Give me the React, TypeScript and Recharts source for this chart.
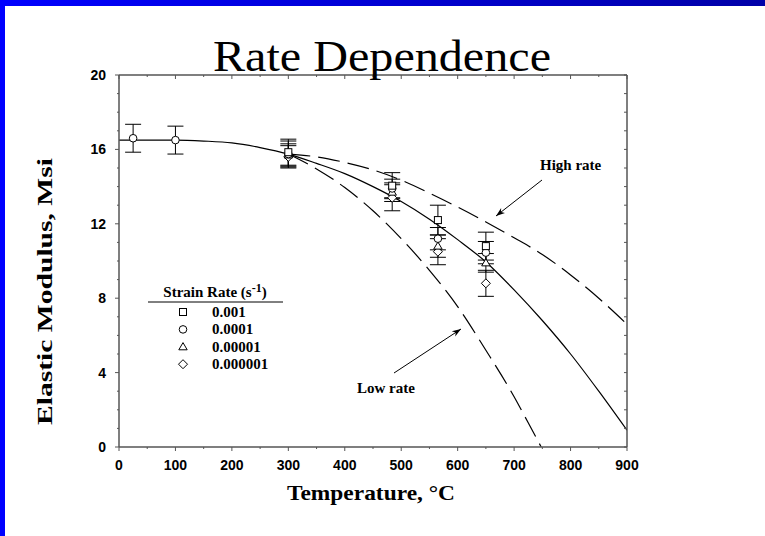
import React from 'react';
import { ComposedChart, Line, Scatter, ErrorBar, XAxis, YAxis } from 'recharts';

// axis ticks
const xTicks = [0, 50, 100, 150, 200, 250, 300, 350, 400, 450, 500, 550, 600, 650, 700, 750, 800, 850, 900];
const yTicks = [0, 1, 2, 3, 4, 5, 6, 7, 8, 9, 10, 11, 12, 13, 14, 15, 16, 17, 18, 19, 20];

// fitted curves
const midT = [0, 50, 100, 150, 200, 250, 300, 350, 400, 450, 500, 550, 600, 650, 700, 750, 800, 850, 900];
const midE = [16.5, 16.5, 16.5, 16.45, 16.35, 16.1, 15.75, 15.25, 14.7, 14.0, 13.2, 12.25, 11.15, 9.95, 8.45, 6.8, 5.0, 3.0, 0.9];

const highT = [300, 350, 400, 450, 500, 550, 600, 650, 700, 750, 800, 850, 900];
const highE = [15.75, 15.6, 15.3, 14.9, 14.35, 13.65, 12.9, 12.1, 11.25, 10.35, 9.25, 8.0, 6.6];

const lowT = [300, 350, 400, 450, 500, 550, 600, 650, 700, 725, 748];
const lowE = [15.75, 14.95, 13.95, 12.7, 11.2, 9.5, 7.55, 5.2, 2.7, 1.3, 0];

// measurements, one list per strain rate
const sqT = [300, 484, 565, 650];
const sqE = [15.85, 14.05, 12.2, 10.8];
const sqErr = [0.7, 0.7, 0.8, 0.75];

const ciT = [25, 100, 300, 484, 565, 650];
const ciE = [16.6, 16.5, 15.75, 13.9, 11.2, 10.45];
const ciErr = [0.75, 0.75, 0.7, 0.5, 0.6, 0.6];

const trT = [300, 484, 565, 650];
const trE = [15.7, 13.7, 10.8, 9.9];
const trErr = [0.6, 0.5, 0.6, 0.5];

const diT = [300, 484, 565, 650];
const diE = [15.6, 13.4, 10.5, 8.8];
const diErr = [0.6, 0.7, 0.7, 0.7];

const legendRates = ['0.001', '0.0001', '0.00001', '0.000001'];

const toCurve = (t: number[], e: number[]) => t.map((v, i) => ({ t: v, e: e[i] }));
const toPoints = (t: number[], e: number[], err: number[]) =>
    t.map((v, i) => ({ t: v, e: e[i], err: err[i] }));

const AXIS = '#555';
const SERIF = '"Liberation Serif", "Times New Roman", serif';
const SANS = '"Liberation Sans", Arial, sans-serif';

const Square = ({ cx, cy }: any) => (
    <rect x={cx - 3.5} y={cy - 3.5} width={7} height={7} fill="#fff" stroke="#000" strokeWidth={1} />
);
const Circle = ({ cx, cy }: any) => <circle cx={cx} cy={cy} r={3.8} fill="#fff" stroke="#000" strokeWidth={1} />;
const Triangle = ({ cx, cy }: any) => (
    <path d={`M${cx},${cy - 4.2}L${cx + 4.2},${cy + 3}L${cx - 4.2},${cy + 3}Z`} fill="#fff" stroke="#000" strokeWidth={1} />
);
const Diamond = ({ cx, cy }: any) => (
    <path d={`M${cx},${cy - 4.5}L${cx + 4.5},${cy}L${cx},${cy + 4.5}L${cx - 4.5},${cy}Z`} fill="#fff" stroke="#000" strokeWidth={1} />
);

const BottomTick = ({ x, y, payload }: any) => {
    const major = payload.value % 100 === 0;
    return (
        <g>
            <line x1={x} x2={x} y1={y} y2={y + (major ? 4 : 2)} stroke={AXIS} />
            {major && (
                <text x={x} y={y + 23} textAnchor="middle" fontFamily={SANS} fontWeight="bold" fontSize={14} fill="#000">
                    {payload.value}
                </text>
            )}
        </g>
    );
};

const TopTick = ({ x, y, payload }: any) => {
    const major = payload.value % 100 === 0;
    return <line x1={x} x2={x} y1={y} y2={y + (major ? 4 : 2)} stroke={AXIS} />;
};

const LeftTick = ({ x, y, payload }: any) => {
    const major = payload.value % 4 === 0;
    return (
        <g>
            <line x1={x - (major ? 4 : 2)} x2={x} y1={y} y2={y} stroke={AXIS} />
            {major && (
                <text x={x - 13} y={y + 5} textAnchor="end" fontFamily={SANS} fontWeight="bold" fontSize={14} fill="#000">
                    {payload.value}
                </text>
            )}
        </g>
    );
};

const RightTick = ({ x, y }: any) => <line x1={x - 3} x2={x} y1={y} y2={y} stroke={AXIS} />;

export default function App() {
    return (
        <div style={{ position: 'absolute', left: 0, top: 0, width: 765, height: 536, background: '#fff' }}>
            <ComposedChart width={765} height={536} margin={{ top: 74, right: 137, bottom: 49, left: 59 }}>
                <XAxis dataKey="t" type="number" domain={[0, 900]} ticks={xTicks} interval={0}
                    height={40} tickSize={0} tickMargin={0} tick={<BottomTick />}
                    axisLine={{ stroke: AXIS, strokeWidth: 1.5 }} tickLine={false} allowDataOverflow />
                <XAxis xAxisId="top" orientation="top" dataKey="t" type="number" domain={[0, 900]} ticks={xTicks}
                    interval={0} height={1} tickSize={0} tickMargin={0} tick={<TopTick />}
                    axisLine={{ stroke: AXIS, strokeWidth: 1.5 }} tickLine={false} allowDataOverflow />
                <YAxis dataKey="e" type="number" domain={[0, 20]} ticks={yTicks} interval={0} width={60}
                    tickSize={0} tickMargin={0} tick={<LeftTick />}
                    axisLine={{ stroke: AXIS, strokeWidth: 1.5 }} tickLine={false} allowDataOverflow />
                <YAxis yAxisId="right" orientation="right" dataKey="e" type="number" domain={[0, 20]} ticks={yTicks}
                    interval={0} width={1} tickSize={0} tickMargin={0} tick={<RightTick />}
                    axisLine={{ stroke: AXIS, strokeWidth: 1.5 }} tickLine={false} allowDataOverflow />

                <Line data={toCurve(midT, midE)} dataKey="e" type="monotone" stroke="#000" strokeWidth={1.2}
                    dot={false} isAnimationActive={false} />
                <Line data={toCurve(highT, highE)} dataKey="e" type="monotone" stroke="#000" strokeWidth={1.2}
                    strokeDasharray="22 8" dot={false} isAnimationActive={false} />
                <Line data={toCurve(lowT, lowE)} dataKey="e" type="monotone" stroke="#000" strokeWidth={1.2}
                    strokeDasharray="22 8" dot={false} isAnimationActive={false} />

                <Scatter data={toPoints(diT, diE, diErr)} dataKey="e" shape={<Diamond />} isAnimationActive={false}>
                    <ErrorBar dataKey="err" direction="y" width={8} stroke="#000" strokeWidth={1} />
                </Scatter>
                <Scatter data={toPoints(trT, trE, trErr)} dataKey="e" shape={<Triangle />} isAnimationActive={false}>
                    <ErrorBar dataKey="err" direction="y" width={8} stroke="#000" strokeWidth={1} />
                </Scatter>
                <Scatter data={toPoints(ciT, ciE, ciErr)} dataKey="e" shape={<Circle />} isAnimationActive={false}>
                    <ErrorBar dataKey="err" direction="y" width={8} stroke="#000" strokeWidth={1} />
                </Scatter>
                <Scatter data={toPoints(sqT, sqE, sqErr)} dataKey="e" shape={<Square />} isAnimationActive={false}>
                    <ErrorBar dataKey="err" direction="y" width={8} stroke="#000" strokeWidth={1} />
                </Scatter>
            </ComposedChart>

            <svg width={765} height={536} style={{ position: 'absolute', left: 0, top: 0, pointerEvents: 'none' }}>
                <defs>
                    <linearGradient id="band" x1="0" x2="1" y1="0" y2="0">
                        <stop offset="0" stopColor="#0000ff" />
                        <stop offset="1" stopColor="#0000a8" />
                    </linearGradient>
                    <marker id="head" viewBox="0 0 10 10" refX="10" refY="5" markerWidth="9" markerHeight="9" orient="auto">
                        <path d="M0,1.5L10,5L0,8.5L3,5Z" fill="#000" />
                    </marker>
                </defs>
                <rect x={0} y={0} width={765} height={6} fill="url(#band)" />
                <rect x={0} y={0} width={5} height={536} fill="#0000ff" />

                <text x={382} y={71} textAnchor="middle" fontFamily={SERIF} fontSize={45} textLength={338}
                    lengthAdjust="spacingAndGlyphs" fill="#000">Rate Dependence</text>
                <text x={371} y={500} textAnchor="middle" fontFamily={SERIF} fontWeight="bold" fontSize={21}
                    textLength={168} lengthAdjust="spacingAndGlyphs" fill="#000">Temperature, °C</text>
                <text x={0} y={0} transform="translate(52,291.5) rotate(-90)" textAnchor="middle" fontFamily={SERIF}
                    fontWeight="bold" fontSize={21} textLength={267} lengthAdjust="spacingAndGlyphs" fill="#000">
                    Elastic Modulus, Msi
                </text>

                {/* legend */}
                <text x={215} y={297} textAnchor="middle" fontFamily={SERIF} fontWeight="bold" fontSize={15} fill="#000">
                    Strain Rate (s<tspan dy={-5} fontSize={12}>-1</tspan><tspan dy={5}>)</tspan>
                </text>
                <line x1={148} x2={283} y1={302} y2={302} stroke="#000" strokeWidth={1} />
                {legendRates.map((r, i) => {
                    const cy = 312 + i * 17.4;
                    const Sym = [Square, Circle, Triangle, Diamond][i];
                    return (
                        <g key={r}>
                            <Sym cx={183} cy={cy} />
                            <text x={212} y={cy + 5} fontFamily={SERIF} fontWeight="bold" fontSize={15} fill="#000">{r}</text>
                        </g>
                    );
                })}

                {/* annotations */}
                <text x={540} y={170} fontFamily={SERIF} fontWeight="bold" fontSize={15} fill="#000">High rate</text>
                <line x1={542} y1={180} x2={496} y2={216} stroke="#000" strokeWidth={1} markerEnd="url(#head)" />
                <text x={357} y={393} fontFamily={SERIF} fontWeight="bold" fontSize={15} fill="#000">Low rate</text>
                <line x1={394} y1={373} x2={461} y2={329} stroke="#000" strokeWidth={1} markerEnd="url(#head)" />
            </svg>
        </div>
    );
}
